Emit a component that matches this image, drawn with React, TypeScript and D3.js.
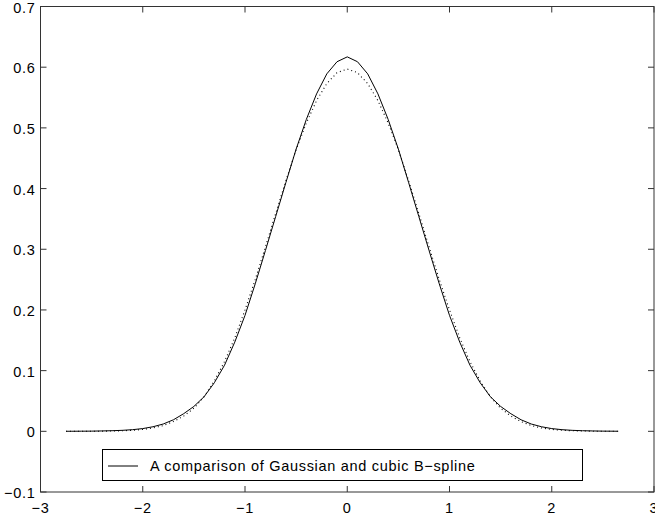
import React from "react";
import * as d3 from "d3";

// x grid of the sampled curves
const xs: number[] = [-2.75, ...d3.range(-27, 27).map((i) => i / 10), 2.65];

// solid curve (cubic B-spline)
const splineVals: number[] = [
  0.0001, 0.0001, 0.0002, 0.0003, 0.0006, 0.001, 0.0016, 0.0027, 0.0045, 0.0075,
  0.012, 0.019, 0.029, 0.041, 0.057, 0.08, 0.109, 0.147, 0.191, 0.243,
  0.298, 0.354, 0.41, 0.465, 0.514, 0.556, 0.589, 0.609,
  0.617,
  0.609, 0.589, 0.556, 0.514, 0.465, 0.41, 0.354, 0.298, 0.243, 0.191,
  0.147, 0.109, 0.08, 0.057, 0.041, 0.029, 0.019, 0.012, 0.0075, 0.0045,
  0.0027, 0.0016, 0.001, 0.0006, 0.0003, 0.0002, 0.0001,
];

// dotted curve (Gaussian)
const gaussVals: number[] = [
  0, 0, 0.0001, 0.0001, 0.0002, 0.0005, 0.0009, 0.0017, 0.003, 0.0055,
  0.0095, 0.016, 0.025, 0.038, 0.057, 0.083, 0.115, 0.154, 0.2, 0.25,
  0.304, 0.359, 0.413, 0.464, 0.508, 0.545, 0.573, 0.591,
  0.597,
  0.591, 0.573, 0.545, 0.508, 0.464, 0.413, 0.359, 0.304, 0.25, 0.2,
  0.154, 0.115, 0.083, 0.057, 0.038, 0.025, 0.016, 0.0095, 0.0055, 0.003,
  0.0017, 0.0009, 0.0005, 0.0002, 0.0001, 0.0001, 0,
];

const xTicks: number[] = [-3, -2, -1, 0, 1, 2, 3];
const yTicks: number[] = [-0.1, 0, 0.1, 0.2, 0.3, 0.4, 0.5, 0.6, 0.7];
const legendLabel = "A comparison of Gaussian and cubic B\u2212spline";

const fmt = (v: number) => {
  const s = Math.abs(v) < 1e-9 ? "0" : String(+v.toFixed(1));
  return s.replace("-", "\u2212");
};

export default function App() {
  const W = 655, H = 518;
  const L = 40.5, R = 654, T = 6.5, B = 492;
  const x = d3.scaleLinear().domain([-3, 3]).range([L, R]);
  const y = d3.scaleLinear().domain([-0.1, 0.7]).range([B, T]);
  const line = d3.line<number>().x((_, i) => x(xs[i])).y((d) => y(d));
  const font = "'Liberation Sans', Arial, Helvetica, sans-serif";
  const fs = 14.5;
  const ls = 0.7;
  const axisColor = "#333";
  const tl = 6;
  return (
    <svg width={W} height={H} style={{ position: "absolute", left: 0, top: 0, background: "#fff" }}>
      <rect x={0} y={0} width={W} height={H} fill="#fff" />
      <path d={line(gaussVals) || ""} fill="none" stroke="#000" strokeWidth={1.1} strokeDasharray="1 3" />
      <path d={line(splineVals) || ""} fill="none" stroke="#000" strokeWidth={1} />
      {/* box */}
      <rect x={L} y={T} width={R - L} height={B - T} fill="none" stroke={axisColor} strokeWidth={1} />
      {xTicks.map((t) => (
        <g key={"x" + t}>
          <line x1={x(t)} x2={x(t)} y1={B} y2={B - tl} stroke={axisColor} />
          <line x1={x(t)} x2={x(t)} y1={T} y2={T + tl} stroke={axisColor} />
          <text x={x(t)} y={513} textAnchor="middle" fontFamily={font} fontSize={fs} letterSpacing={ls} fill="#000">
            {fmt(t)}
          </text>
        </g>
      ))}
      {yTicks.map((t) => (
        <g key={"y" + t}>
          <line x1={L} x2={L + tl} y1={y(t)} y2={y(t)} stroke={axisColor} />
          <line x1={R} x2={R - tl} y1={y(t)} y2={y(t)} stroke={axisColor} />
          <text x={35.5} y={y(t) + 6} textAnchor="end" fontFamily={font} fontSize={fs} letterSpacing={ls} fill="#000">
            {fmt(t)}
          </text>
        </g>
      ))}
      {/* legend */}
      <rect x={102.5} y={449.5} width={480} height={31} fill="#fff" stroke="#000" strokeWidth={1} />
      <line x1={108} x2={138} y1={466} y2={466} stroke="#000" strokeWidth={1} />
      <text x={150} y={470.5} fontFamily={font} fontSize={fs} letterSpacing={ls} fill="#000">
        {legendLabel}
      </text>
    </svg>
  );
}
